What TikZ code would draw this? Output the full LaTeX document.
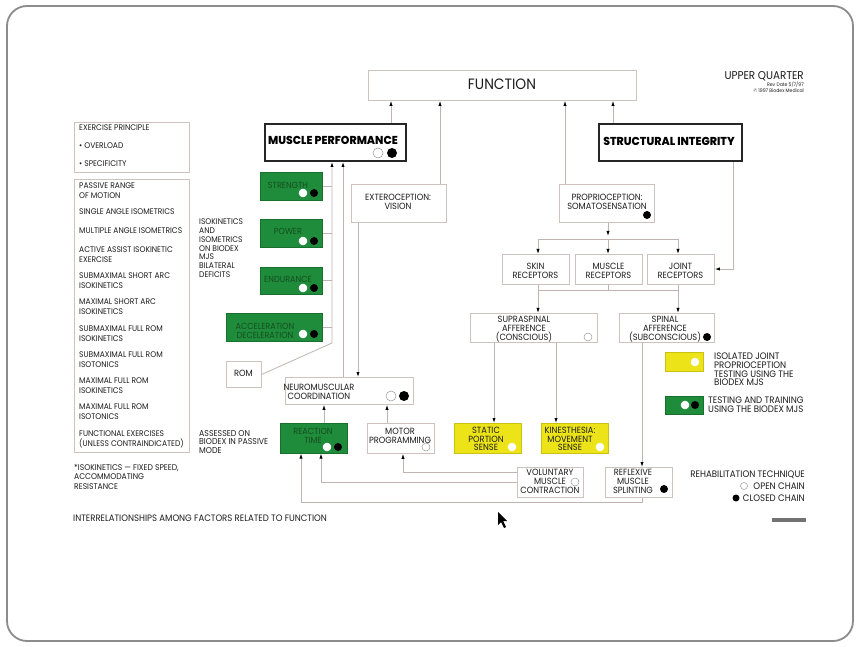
\documentclass[tikz,border=0pt]{standalone}
\usepackage{fontspec}
\setmainfont{Poppins}[FakeStretch=0.92]
\newfontfamily\heavy{Poppins}[FakeStretch=0.95, UprightFont={* ExtraBold}]
\usetikzlibrary{arrows.meta}
\definecolor{ink}{RGB}{28,28,28}
\definecolor{edge}{RGB}{205,194,192}
\definecolor{wirec}{RGB}{192,180,178}
\definecolor{grn}{RGB}{30,140,58}
\definecolor{grntext}{RGB}{22,78,32}
\definecolor{ylw}{RGB}{236,228,24}
\definecolor{framec}{RGB}{140,140,140}
% text sizes: list column, box labels, legend
\newcommand\fl[1]{\fontsize{8.2}{#1}\selectfont}
\newcommand\fb[1]{\fontsize{9.0}{#1}\selectfont}
\newcommand\fg[1]{\fontsize{9.4}{#1}\selectfont}

\tikzset{
  box/.style={draw=edge, line width=0.8pt, fill=white, inner sep=0pt, anchor=north west},
  gbox/.style={fill=grn, draw=grn!80!black, line width=0.5pt, inner sep=0pt, anchor=north west},
  ybox/.style={fill=ylw, draw=ylw!85!black, line width=0.5pt, inner sep=0pt, anchor=north west},
  hbox/.style={draw=black!85, line width=2pt, fill=white, inner sep=0pt, anchor=north west},
  lbl/.style={inner sep=0pt, text=ink, font=\fb{9}, align=center, anchor=north},
  lbll/.style={inner sep=0pt, text=ink, font=\fl{9.5}, align=left, anchor=north west},
  lblr/.style={inner sep=0pt, text=ink, font=\fg{12}, align=right, anchor=north east},
  glbl/.style={lbl, text=grntext},
  wire/.style={draw=wirec, line width=0.8pt},
  arr/.style={wire, -{Latex[length=5pt,width=3.2pt,color=black]}},
  oc/.style={fill=white, draw=black!40, line width=0.5pt},
  fc/.style={fill=black},
}

\begin{document}
\begin{tikzpicture}[x=1pt,y=-1pt]
\useasboundingbox (0,0) rectangle (860,647);
\fill[white] (0,0) rectangle (860,647);
% outer frame
\draw[framec, line width=1.8pt, rounded corners=20pt] (7,6) rectangle (853,641);

% ---- boxes ----
\node[box, minimum width=268, minimum height=30] (fn) at (368,70) {};
\node[hbox, minimum width=141, minimum height=37] (mp) at (264,123) {};
\node[hbox, minimum width=143, minimum height=37] (si) at (598,123) {};
\node[box, minimum width=115, minimum height=50] (ep) at (74,122) {};
\node[box, minimum width=115, minimum height=273] (lst) at (74,179) {};
\node[gbox, minimum width=62, minimum height=28] (str) at (260,172) {};
\node[gbox, minimum width=62, minimum height=28] (pow) at (260,219) {};
\node[gbox, minimum width=62, minimum height=27] (endu) at (260,267) {};
\node[gbox, minimum width=96, minimum height=28] (acc) at (226,313) {};
\node[box, minimum width=35, minimum height=26] (rom) at (226,361) {};
\node[box, minimum width=95, minimum height=38] (ext) at (351,184) {};
\node[box, minimum width=95, minimum height=38] (prop) at (559,184) {};
\node[box, minimum width=67, minimum height=30] (skin) at (502,254) {};
\node[box, minimum width=67, minimum height=30] (musr) at (575,254) {};
\node[box, minimum width=67, minimum height=30] (joint) at (647,254) {};
\node[box, minimum width=127, minimum height=29] (supra) at (470,313) {};
\node[box, minimum width=95, minimum height=29] (spinal) at (619,313) {};
\node[box, minimum width=128, minimum height=27] (nmc) at (285,377) {};
\node[gbox, minimum width=67, minimum height=30] (rt) at (280,423) {};
\node[box, minimum width=67, minimum height=30] (mpg) at (367,423) {};
\node[ybox, minimum width=67, minimum height=30] (stat) at (454,423) {};
\node[ybox, minimum width=67, minimum height=30] (kin) at (541,423) {};
\node[box, minimum width=66, minimum height=30] (vol) at (517,467) {};
\node[box, minimum width=67, minimum height=30] (ref) at (605,467) {};
\node[ybox, minimum width=38, minimum height=19] (legy) at (665,352) {};
\node[gbox, minimum width=38, minimum height=18] (legg) at (665,396) {};

% ---- texts ----
\node[lbl, font=\fontsize{15}{15}\selectfont] (fnT) at (502,79) {FUNCTION};
\node[lbl, font=\heavy\fontsize{11.5}{11.5}\selectfont, text=black] (mpT) at (333,136) {MUSCLE PERFORMANCE};
\node[lbl, font=\heavy\fontsize{11.5}{11.5}\selectfont, text=black] (siT) at (669,137) {STRUCTURAL INTEGRITY};
\node[lblr, font=\fontsize{11.3}{11.3}\selectfont] (uqT) at (804,71) {UPPER QUARTER};
\node[lblr, font=\fontsize{5}{6}\selectfont] (revT) at (804,82) {Rev Date 5/7/97\\© 1997 Biodex Medical};

\node[lbll] (epA) at (79,125) {EXERCISE PRINCIPLE};
\node[lbll] (epB) at (79,143) {• OVERLOAD};
\node[lbll] (epC) at (79,161) {• SPECIFICITY};

\node[lbll] (l1) at (79,183) {PASSIVE RANGE\\OF MOTION};
\node[lbll] (l2) at (79,209) {SINGLE ANGLE ISOMETRICS};
\node[lbll] (l3) at (79,228) {MULTIPLE ANGLE ISOMETRICS};
\node[lbll] (l4) at (79,247) {ACTIVE ASSIST ISOKINETIC\\EXERCISE};
\node[lbll] (l5) at (79,273) {SUBMAXIMAL SHORT ARC\\ISOKINETICS};
\node[lbll] (l6) at (79,299) {MAXIMAL SHORT ARC\\ISOKINETICS};
\node[lbll] (l7) at (79,326) {SUBMAXIMAL FULL ROM\\ISOKINETICS};
\node[lbll] (l8) at (79,352) {SUBMAXIMAL FULL ROM\\ISOTONICS};
\node[lbll] (l9) at (79,378) {MAXIMAL FULL ROM\\ISOKINETICS};
\node[lbll] (l10) at (79,404) {MAXIMAL FULL ROM\\ISOTONICS};
\node[lbll] (l11) at (79,431) {FUNCTIONAL EXERCISES\\(UNLESS CONTRAINDICATED)};
\node[lbll, font=\fontsize{8.3}{9.6}\selectfont] (note) at (74,464) {*ISOKINETICS — FIXED SPEED,\\ACCOMMODATING\\RESISTANCE};
\node[lbll, font=\fontsize{9.3}{10}\selectfont] (capT) at (73,515) {INTERRELATIONSHIPS AMONG FACTORS RELATED TO FUNCTION};

\node[lbll, font=\fl{8.7}] (isoT) at (199,219) {ISOKINETICS\\AND\\ISOMETRICS\\ON BIODEX\\MJS\\BILATERAL\\DEFICITS};
\node[lbll, font=\fontsize{8.5}{8.6}\selectfont] (assT) at (199,430) {ASSESSED ON\\BIODEX IN PASSIVE\\MODE};

\node[glbl, font=\fontsize{8.8}{9}\selectfont] (strT) at (288,182) {STRENGTH};
\node[glbl, font=\fontsize{8.8}{9}\selectfont] (powT) at (288,228) {POWER};
\node[glbl, font=\fontsize{8.8}{9}\selectfont] (endT) at (288,276) {ENDURANCE};
\node[glbl, font=\fontsize{8.8}{9}\selectfont] (accT) at (265,323) {ACCELERATION\\DECELERATION};
\node[glbl, font=\fontsize{8.8}{9}\selectfont] (rtT) at (313,428) {REACTION\\TIME};

\node[lbl] (romT) at (243.5,370) {ROM};
\node[lbl] (extT) at (398,194) {EXTEROCEPTION:\\VISION};
\node[lbl] (propT) at (607,194) {PROPRIOCEPTION:\\SOMATOSENSATION};
\node[lbl] (skinT) at (535.5,263) {SKIN\\RECEPTORS};
\node[lbl] (musT) at (608.5,263) {MUSCLE\\RECEPTORS};
\node[lbl] (jntT) at (680.5,263) {JOINT\\RECEPTORS};
\node[lbl] (supT) at (524,316) {SUPRASPINAL\\AFFERENCE\\(CONSCIOUS)};
\node[lbl] (spiT) at (665,316) {SPINAL\\AFFERENCE\\(SUBCONSCIOUS)};
\node[lbl, font=\fb{8.5}] (nmcT) at (319,384) {NEUROMUSCULAR\\COORDINATION};
\node[lbl, font=\fb{8.5}] (mpgT) at (400,428) {MOTOR\\PROGRAMMING};
\node[lbl, font=\fb{8.5}] (statT) at (486,427) {STATIC\\PORTION\\SENSE};
\node[lbl, font=\fb{8.5}] (kinT) at (570,427) {KINESTHESIA:\\MOVEMENT\\SENSE};
\node[lbl] (volT) at (550,469) {VOLUNTARY\\MUSCLE\\CONTRACTION};
\node[lbl] (refT) at (633,469) {REFLEXIVE\\MUSCLE\\SPLINTING};

\node[lbll, font=\fg{8.7}] (lgyT) at (714,353) {ISOLATED JOINT\\PROPRIOCEPTION\\TESTING USING THE\\BIODEX MJS};
\node[lbll, font=\fg{9}] (lggT) at (708,397) {TESTING AND TRAINING\\USING THE BIODEX MJS};
\node[lblr] (rehT) at (805,471) {REHABILITATION TECHNIQUE};
\node[lblr] (openT) at (805,483) {OPEN CHAIN};
\node[lblr] (closT) at (805,495) {CLOSED CHAIN};

% ---- chain markers ----
\path[oc] (378,153) circle (5); \path[fc] (392,153) circle (5);
\foreach \yy in {193,241,288,334}{
  \path[oc, draw=white] (303,\yy) circle (4); \path[fc] (314,\yy) circle (4);
}
\path[fc] (647,215) circle (4);
\path[oc] (588,337) circle (4);
\path[fc] (707,337) circle (4);
\path[oc] (391,396) circle (5); \path[fc] (404,396) circle (5);
\path[oc, draw=white] (327,447) circle (4); \path[fc] (338,447) circle (4);
\path[oc] (426,447) circle (4);
\path[oc, draw=white] (512,447) circle (4);
\path[oc, draw=white] (600,447) circle (4);
\path[oc] (575,482) circle (4);
\path[fc] (664,489) circle (4);
\path[oc, draw=white] (695,362) circle (4);
\path[oc, draw=white] (685,405) circle (4); \path[fc] (695,405) circle (4);
\path[oc] (744,486) circle (3.5);
\path[fc] (736,498) circle (3.5);

% ---- connectors ----
\draw[arr] (391,0 |- mp.north) -- (391,0 |- fn.south);
\draw[arr] (440,0 |- ext.north) -- (440,0 |- fn.south);
\draw[arr] (565,0 |- prop.north) -- (565,0 |- fn.south);
\draw[arr] (613,0 |- si.north) -- (613,0 |- fn.south);

\coordinate (bend) at (332,343);
\draw[arr] (rom.east) -- (bend) -- (332,0 |- mp.south);
\foreach \b in {str,pow,endu,acc}{
  \draw[wire] (\b.east) -- (332,0 |- \b.east);
}
\draw[arr] (343,0 |- nmc.north) -- (343,0 |- mp.south);
\draw[arr] (358,0 |- ext.south) -- (358,0 |- nmc.north);
\draw[arr] (324,0 |- rt.north) -- (324,0 |- nmc.south);
\draw[arr] (387,0 |- mpg.north) -- (387,0 |- nmc.south);

\draw[arr] (vol.west |- 0,472) -- (403,472) -- (403,0 |- mpg.south);
\draw[arr] (vol.west |- 0,482) -- (321,482) -- (321,0 |- rt.south);
\draw[arr] (642,0 |- ref.south) -- (642,502) -- (301,502) -- (301,0 |- rt.south);
\draw[arr] (642,0 |- spinal.south) -- (642,0 |- ref.north);
\draw[arr] (494,0 |- supra.south) -- (494,0 |- stat.north);
\draw[arr] (556,0 |- supra.south) -- (556,0 |- kin.north);

\coordinate (barL) at (538,239);
\coordinate (barM) at (608,239);
\coordinate (barR) at (678,239);
\draw[arr] (608,0 |- prop.south) -- (608,236);
\draw[wire] (barL) -- (barR);
\draw[arr] (barL) -- (538,0 |- skin.north);
\draw[arr] (barM) -- (608,0 |- musr.north);
\draw[arr] (barR) -- (678,0 |- joint.north);
\draw[arr] (733,0 |- si.south) -- (733,269) -- (joint.east |- 0,269);

\coordinate (lowL) at (538,290);
\coordinate (lowR) at (678,290);
\draw[wire] (538,0 |- skin.south) -- (lowL) -- (lowR) -- (678,0 |- joint.south);
\draw[wire] (608,0 |- musr.south) -- (608,290);
\draw[arr] (lowL) -- (538,0 |- supra.north);
\draw[arr] (lowR) -- (678,0 |- spinal.north);

% scale bar and pointer
\fill[black!55] (772,518) rectangle (806,522);
\fill[black] (498,512) -- (498,525) -- (501,522) -- (504,528) -- (506,527) -- (503,521) -- (507,521) -- cycle;
\end{tikzpicture}
\end{document}
